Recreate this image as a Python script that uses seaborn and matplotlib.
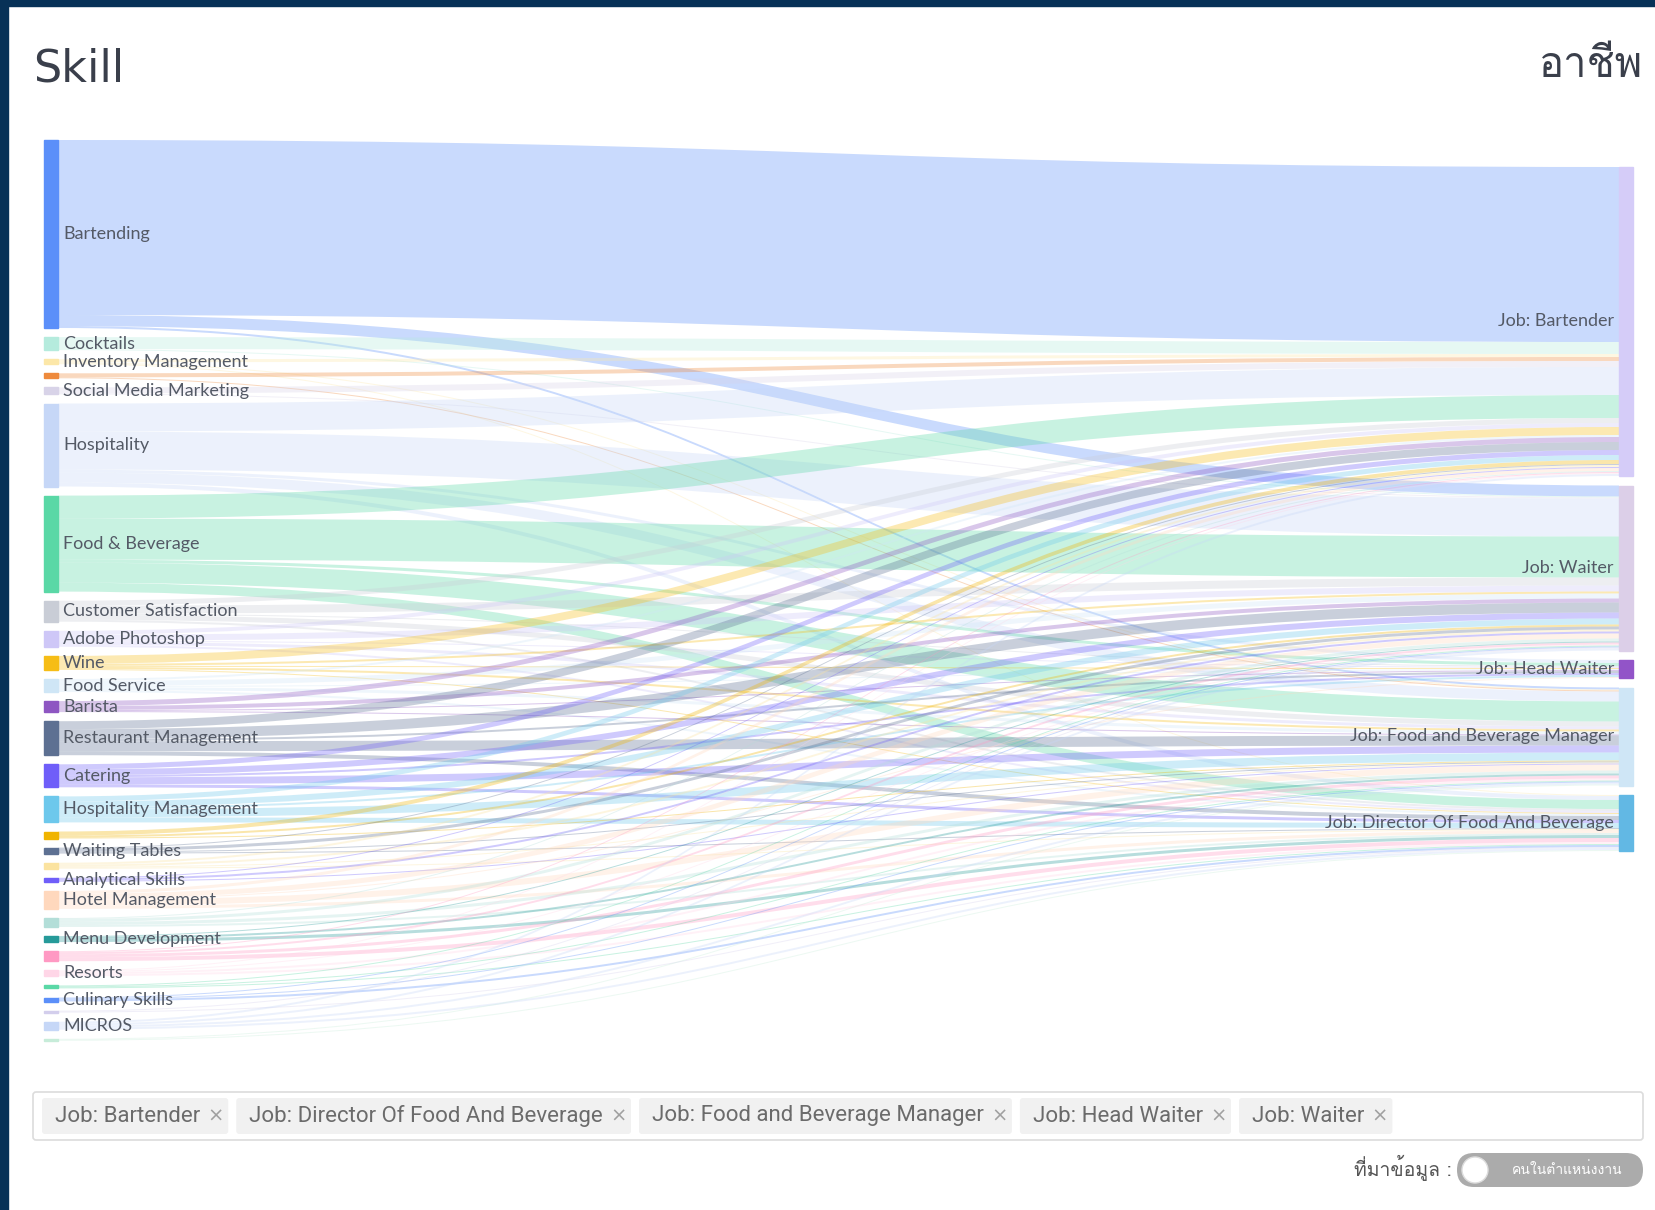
import matplotlib
matplotlib.use("Agg")
import matplotlib.pyplot as plt
from matplotlib.path import Path
from matplotlib.patches import PathPatch, Rectangle, FancyBboxPatch, Circle
from matplotlib import font_manager
from matplotlib.ft2font import FT2Font
import seaborn as sns
import numpy as np

# skills (left column), "" = node whose label is hidden in the chart
skills = ["Bartending", "Cocktails", "Inventory Management", "", "Social Media Marketing",
          "Hospitality", "Food & Beverage", "Customer Satisfaction", "Adobe Photoshop", "Wine",
          "Food Service", "Barista", "Restaurant Management", "Catering", "Hospitality Management",
          "", "Waiting Tables", "", "Analytical Skills", "Hotel Management",
          "", "Menu Development", "", "Resorts", "",
          "Culinary Skills", "", "MICROS", ""]
skill_colors = ["#5B8FF9", "#B5EBDD", "#FCE7A8", "#EE8A3C", "#D8D3E8",
                "#C6D7F7", "#5AD8A6", "#C9CDD6", "#CEC7F7", "#F6BD16",
                "#CFE6F6", "#8E56C2", "#5D7092", "#6F5EF9", "#6DC8EC",
                "#F0B400", "#5D7092", "#FBE3A0", "#6F5EF9", "#FFD8BD",
                "#B3DED8", "#269A99", "#FF99C3", "#FFD6E7", "#5AD8A6",
                "#5B8FF9", "#D3CEEC", "#C6D7F7", "#C7ECD9"]

jobs = ["Job: Bartender", "Job: Waiter", "Job: Head Waiter",
        "Job: Food and Beverage Manager", "Job: Director Of Food And Beverage"]
job_colors = ["#D5CCF8", "#DCCFE8", "#9254C8", "#CFE6F6", "#62B8E4"]

# number of people per skill -> job
to_bartender = [175, 12, 3, 4, 6, 28, 23, 5, 4, 8, 2, 5, 8, 5, 5, 4, 1, 2, 1, 3, 1, 0, 1, 1, 0, 0, 0, 2, 0]
to_waiter = [11, 1, 0, 0, 1, 38, 41, 8, 6, 2, 5, 4, 10, 6, 6, 2, 3, 2, 2, 5, 3, 1, 2, 1, 1, 1, 1, 2, 0]
to_head_waiter = [0, 0, 0, 0, 0, 3, 3, 1, 1, 1, 1, 1, 2, 2, 2, 0, 0, 0, 0, 1, 0, 0, 0, 0, 0, 0, 0, 0, 0]
to_fb_manager = [2, 0, 1, 1, 0, 10, 20, 5, 3, 2, 3, 1, 10, 7, 8, 1, 1, 1, 1, 6, 3, 2, 3, 2, 1, 1, 0, 2, 1]
to_director = [0, 0, 1, 0, 0, 4, 9, 2, 2, 1, 2, 0, 4, 3, 5, 0, 1, 1, 0, 3, 2, 3, 4, 2, 1, 2, 1, 2, 1]

chart_title_left = "Skill"
chart_title_right = "อาชีพ"
source_label = "ที่มาข้อมูล :"
toggle_label = "คนในตำแหน่งงาน"


def find_thai_font():
    for f in font_manager.fontManager.ttflist:
        try:
            if ord("อ") in FT2Font(f.fname).get_charmap():
                return f.name
        except Exception:
            pass
    return "DejaVu Sans"


sns.set_theme(style="white")
plt.rcParams["font.family"] = ["Lato", "DejaVu Sans"]
thai = [find_thai_font(), "DejaVu Sans"]

flows = np.array([to_bartender, to_waiter, to_head_waiter, to_fb_manager, to_director]).T
left_tot = flows.sum(axis=1)
right_tot = flows.sum(axis=0)

fig = plt.figure(figsize=(16.56, 12.10), dpi=100)
ax = fig.add_axes([0, 0, 1, 1])
ax.set_xlim(0, 1656)
ax.set_ylim(1210, 0)
ax.axis("off")

# page frame
ax.add_patch(Rectangle((0, 0), 8, 1210, color="#073157", zorder=5))
ax.add_patch(Rectangle((0, 0), 1656, 6, color="#073157", zorder=5))

# layout (1 person = 1 px)
lx0, lx1 = 44, 58
rx0, rx1 = 1619, 1633
left_top, left_gap = 140, 9.1
right_top, right_gap = 167, 9.5

left_y = left_top + np.concatenate([[0], np.cumsum(left_tot[:-1] + left_gap)])
right_y = right_top + np.concatenate([[0], np.cumsum(right_tot[:-1] + right_gap)])


def band(y0a, y0b, y1a, y1b, color):
    xm = (lx1 + rx0) / 2
    verts = [(lx1, y0a), (xm, y0a), (xm, y1a), (rx0, y1a),
             (rx0, y1b), (xm, y1b), (xm, y0b), (lx1, y0b), (lx1, y0a)]
    codes = [Path.MOVETO, Path.CURVE4, Path.CURVE4, Path.CURVE4,
             Path.LINETO, Path.CURVE4, Path.CURVE4, Path.CURVE4, Path.CLOSEPOLY]
    ax.add_patch(PathPatch(Path(verts, codes), facecolor=color, edgecolor="none",
                           alpha=0.33, zorder=1))


# links: stacked by target order at the source, by source order at the target
out_pos = {}
for i in range(len(skills)):
    y = left_y[i]
    for j in range(len(jobs)):
        out_pos[(i, j)] = y
        y += flows[i, j]
in_pos = {}
for j in range(len(jobs)):
    y = right_y[j]
    for i in range(len(skills)):
        in_pos[(i, j)] = y
        y += flows[i, j]
for i in range(len(skills)):
    for j in range(len(jobs)):
        v = flows[i, j]
        if v <= 0:
            continue
        band(out_pos[(i, j)], out_pos[(i, j)] + v, in_pos[(i, j)], in_pos[(i, j)] + v,
             skill_colors[i])

label_color = "#545a66"
for i, name in enumerate(skills):
    ax.add_patch(Rectangle((lx0, left_y[i]), lx1 - lx0, left_tot[i],
                           color=skill_colors[i], zorder=3))
    if name:
        ax.text(lx1 + 5, left_y[i] + left_tot[i] / 2, name, ha="left", va="center",
                fontsize=13, color=label_color, zorder=4)
for j, name in enumerate(jobs):
    ax.add_patch(Rectangle((rx0, right_y[j]), rx1 - rx0, right_tot[j],
                           color=job_colors[j], zorder=3))
    ax.text(rx0 - 5, right_y[j] + right_tot[j] / 2, name, ha="right", va="center",
            fontsize=13, color=label_color, zorder=4)

# titles
ax.text(33, 82, chart_title_left, ha="left", va="baseline", fontsize=32,
        color="#3a3f4b", family=["DejaVu Sans"])
ax.text(1643, 67, chart_title_right, ha="right", va="center", fontsize=30,
        color="#3a3f4b", family=thai)

# selected jobs filter box
ax.add_patch(FancyBboxPatch((33, 1092), 1610, 48, boxstyle="round,pad=0,rounding_size=3",
                            facecolor="white", edgecolor="#dcdcdc", lw=1.2, zorder=2))
renderer = fig.canvas.get_renderer()
cx = 42
for name in sorted(jobs):
    t = ax.text(cx + 13, 1116, name, ha="left", va="center", fontsize=16,
                color="#6b6b6b", zorder=4, family=["Roboto", "DejaVu Sans"])
    w = t.get_window_extent(renderer).width
    ax.text(cx + 13 + w + 7, 1116, "×", ha="left", va="center", fontsize=14,
            color="#a0a0a0", zorder=4, family=["DejaVu Sans"])
    cw = w + 13 + 7 + 21
    ax.add_patch(FancyBboxPatch((cx, 1098), cw, 36, boxstyle="round,pad=0,rounding_size=3",
                                facecolor="#f1f1f1", edgecolor="none", zorder=3))
    cx += cw + 8

# data source toggle
ax.text(1452, 1168, source_label, ha="right", va="center", fontsize=14,
        color="#555555", family=thai)
ax.add_patch(FancyBboxPatch((1457, 1153), 186, 34, boxstyle="round,pad=0,rounding_size=17",
                            facecolor="#ababab", edgecolor="none", zorder=3))
ax.add_patch(Circle((1475, 1170), 13, facecolor="white", edgecolor="#dddddd", zorder=4))
ax.text(1567, 1170, toggle_label, ha="center", va="center", fontsize=10,
        color="white", zorder=5, family=thai)

fig.savefig("out.png", dpi=100)
